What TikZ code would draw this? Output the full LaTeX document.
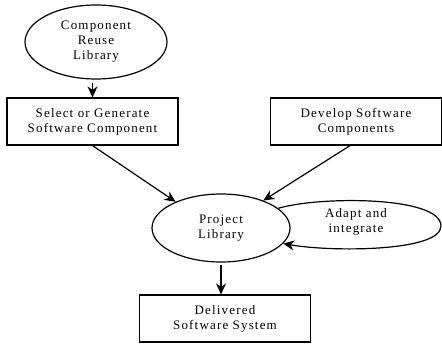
\documentclass[tikz,border=0pt]{standalone}
\usepackage{fontspec}
\setmainfont{Liberation Serif}[LetterSpace=9]
\usetikzlibrary{shapes.geometric,arrows.meta}

\begin{document}
\begin{tikzpicture}[x=1pt,y=-1pt,font=\fontsize{13}{15}\selectfont,
  box/.style={draw,line width=1.2pt,minimum width=171pt,minimum height=47pt,align=center,inner sep=0pt},
  oval/.style={draw,ellipse,line width=1.2pt,align=center,inner sep=0pt},
  arr/.style={-{Stealth[length=11pt,width=10pt]},line width=1.2pt}]
\useasboundingbox (0,0) rectangle (442,346);
\node[oval,minimum width=142pt,minimum height=74pt] (reuse) at (96,42) {Component\\Reuse\\Library};
\node[box] (select) at (92.5,121.5) {Select or Generate\\Software Component};
\node[box] (develop) at (356,121.5) {Develop Software\\Components};
\node[oval,minimum width=138pt,minimum height=68pt] (plib) at (221,228) {Project\\Library};
\node[align=center] (adapt) at (356,222) {Adapt and\\integrate};
\node[box] (deliv) at (225,318.5) {Delivered\\Software System};
\draw[arr,shorten <=3pt] (reuse.south -| select.north) -- (select.north);
\draw[arr] (select.south) -- (plib.150);
\draw[arr] ([xshift=-6pt]develop.south) -- (plib.33);
\draw[arr] (plib.19) .. controls (320,196) and (441,196) .. (441,226)
  .. controls (441,252) and (330,252) .. (plib.-14);
\draw[arr,shorten <=2pt] (plib.south) -- (plib.south |- deliv.north);
\end{tikzpicture}
\end{document}
